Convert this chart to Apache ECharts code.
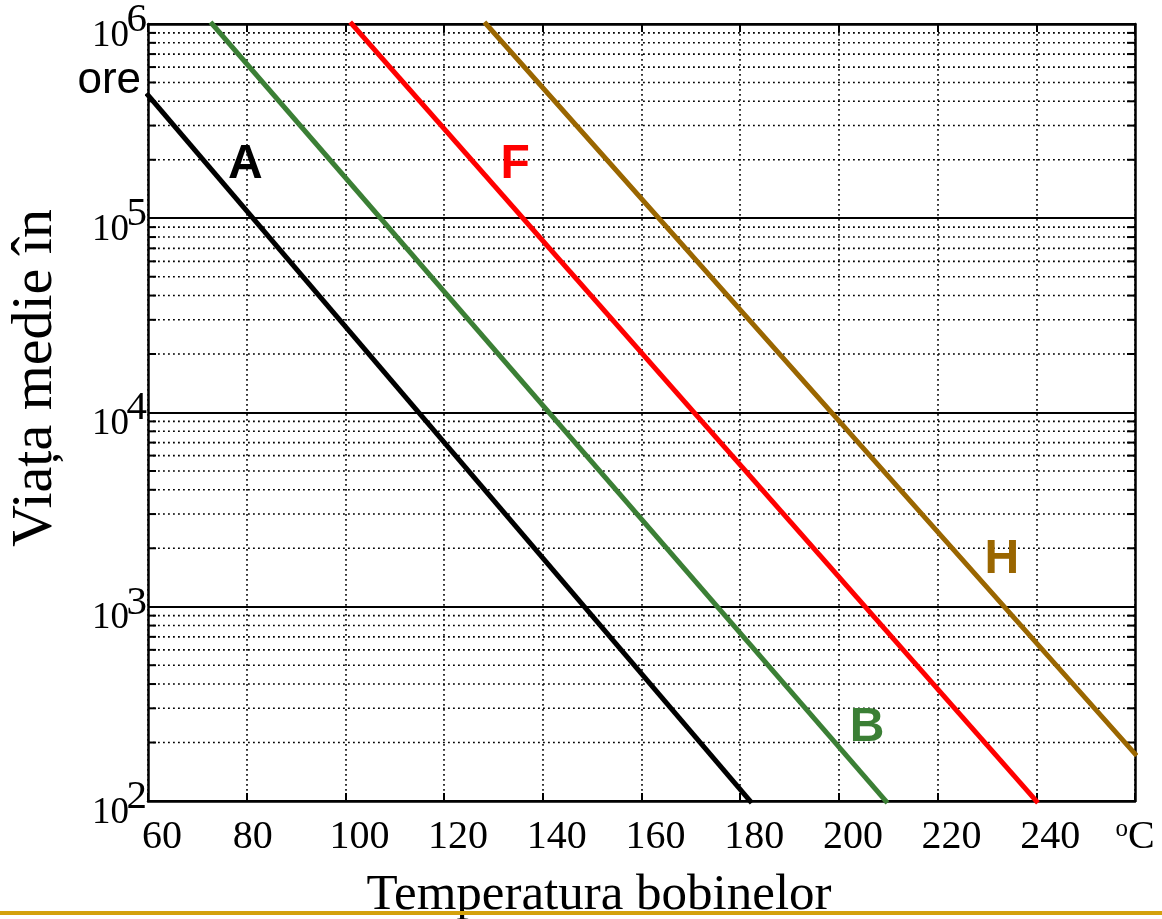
<!DOCTYPE html>
<html><head><meta charset="utf-8">
<script src="https://cdn.jsdelivr.net/npm/echarts@6/dist/echarts.min.js"></script>
<style>html,body{margin:0;padding:0;background:#fff}#c{width:1162px;height:919px}</style>
</head><body><div id="c"></div>
<script>
// ---- data ----
const xMin = 60, xMax = 260, xStep = 20;
const yMin = 100, yMax = 1000000;
const yBaseText = '10';
const xTitle = 'Temperatura bobinelor';
const yTitle = 'Viața medie în';
const yUnit = 'ore';
const xUnitSup = 'o', xUnit = 'C';

const classNames = ['A', 'B', 'F', 'H'];
const tempA = [60, 182];    const lifeA = [430000, 100];
const tempB = [73, 209.5];  const lifeB = [1000000, 100];
const tempF = [101.3, 240]; const lifeF = [1000000, 100];
const tempH = [128.5, 260]; const lifeH = [1000000, 175];

// label anchors (data coords)
const labelTemp = [79.7, 205.7, 134.4, 233.0];
const labelLife = [189000, 238, 189000, 1740];

const colors = ['#000000', '#3b7f35', '#ff0000', '#9a6600'];

// minor grid values (2..9 per decade)
const minorVals = [];
for (let d = 2; d < 6; d++) for (let m = 2; m <= 9; m++) minorVals.push(m * Math.pow(10, d));

const temps = [tempA, tempB, tempF, tempH];
const lifes = [lifeA, lifeB, lifeF, lifeH];

const serif = 'Liberation Serif, Times New Roman, serif';
const sans = 'Liberation Sans, Arial, sans-serif';

const chart = echarts.init(document.getElementById('c'), null, {renderer: 'canvas'});

const lineSeries = classNames.map((n, i) => ({
  type: 'line', name: n, z: 5, clip: false, silent: true,
  symbol: 'none', yAxisIndex: 0, xAxisIndex: 0,
  lineStyle: {color: colors[i], width: 5, cap: 'square'},
  data: temps[i].map((t, k) => [t, lifes[i][k]]),
  markPoint: {
    symbol: 'rect', symbolSize: 1, silent: true,
    itemStyle: {color: 'rgba(0,0,0,0)'},
    label: {show: true, position: 'inside', formatter: n,
      fontFamily: sans, fontWeight: 'bold', fontSize: 48, color: colors[i]},
    data: [{coord: [labelTemp[i], labelLife[i]], value: n}]
  }
}));

const minorSeries = {
  type: 'custom', z: 1, silent: true, clip: false, xAxisIndex: 0, yAxisIndex: 0,
  data: minorVals.map(v => [xMin, v]),
  encode: {x: 0, y: 1},
  renderItem: (params, api) => {
    const v = api.value(1);
    const p1 = api.coord([xMin, v]);
    const p2 = api.coord([xMax, v]);
    return {type: 'group', children: [
      {type: 'line', shape: {x1: p1[0], y1: p1[1], x2: p2[0], y2: p2[1]},
        style: {stroke: '#000', lineWidth: 1.6, lineDash: [1.8, 3.2]}},
      {type: 'line', shape: {x1: p1[0], y1: p1[1], x2: p1[0] + 8, y2: p1[1]},
        style: {stroke: '#000', lineWidth: 2}},
      {type: 'line', shape: {x1: p2[0] - 8, y1: p2[1], x2: p2[0], y2: p2[1]},
        style: {stroke: '#000', lineWidth: 2}}
    ]};
  }
};

const hiddenAxisParts = {
  axisLine: {show: false}, axisTick: {show: false}, splitLine: {show: false}, minorTick: {show: false}
};

const option = {
  animation: false,
  backgroundColor: '#fff',
  grid: {left: 148, right: 27, top: 24, bottom: 118, containLabel: false, outerBoundsMode: 'none'},
  xAxis: [{
    type: 'value', min: xMin, max: xMax, interval: xStep, position: 'bottom',
    axisLine: {show: true, onZero: false, lineStyle: {color: '#000', width: 2.5}},
    axisTick: {show: true, inside: true, length: 8, lineStyle: {color: '#000', width: 2}},
    splitLine: {show: true, lineStyle: {color: '#000', width: 1.6, type: [1.8, 3.2]}},
    axisLabel: {
      show: true, margin: 16, showMinLabel: true, showMaxLabel: true,
      formatter: v => {
        if (v === xMax) return '{o|' + xUnitSup + '}{c|' + xUnit + '}';
        if (v === 80) return '{m|' + v + '}';
        return '{n|' + v + '}';
      },
      rich: {
        n: {fontFamily: serif, fontSize: 40, lineHeight: 40, color: '#000', padding: [0, 0, 0, 28]},
        m: {fontFamily: serif, fontSize: 40, lineHeight: 40, color: '#000', padding: [0, 0, 0, 12]},
        o: {fontFamily: serif, fontSize: 25, lineHeight: 25, color: '#000', verticalAlign: 'top'},
        c: {fontFamily: serif, fontSize: 40, lineHeight: 40, color: '#000', verticalAlign: 'bottom'}
      }
    }
  }, {
    type: 'value', min: xMin, max: xMax, interval: xStep, position: 'top',
    axisLine: {show: true, onZero: false, lineStyle: {color: '#000', width: 2.5}},
    axisTick: {show: true, inside: true, length: 8, lineStyle: {color: '#000', width: 2}},
    splitLine: {show: false}, axisLabel: {show: false}
  }],
  yAxis: [{
    // main axis: base "10" of each label
    type: 'log', logBase: 10, min: yMin, max: yMax, position: 'left',
    axisLine: {show: true, onZero: false, lineStyle: {color: '#000', width: 2.5}},
    axisTick: {show: true, inside: true, length: 8, lineStyle: {color: '#000', width: 2}},
    splitLine: {show: true, lineStyle: {color: '#000', width: 2, type: 'solid'}},
    axisLabel: {
      show: true, margin: 19, showMinLabel: true, showMaxLabel: true,
      verticalAlign: 'top', lineHeight: 24,
      fontFamily: serif, fontSize: 37, color: '#000',
      formatter: () => yBaseText
    }
  }, {
    type: 'log', logBase: 10, min: yMin, max: yMax, position: 'right',
    axisLine: {show: true, onZero: false, lineStyle: {color: '#000', width: 2.5}},
    axisTick: {show: true, inside: true, length: 8, lineStyle: {color: '#000', width: 2}},
    splitLine: {show: false}, axisLabel: {show: false}
  }, Object.assign({
    // exponent of each label (superscript)
    type: 'log', logBase: 10, min: yMin, max: yMax, position: 'left',
    axisLabel: {
      show: true, margin: 1, showMinLabel: true, showMaxLabel: true,
      verticalAlign: 'bottom', lineHeight: 8,
      fontFamily: serif, fontSize: 41, color: '#000',
      formatter: v => String(Math.round(Math.log10(v)))
    }
  }, hiddenAxisParts)],
  graphic: [
    {type: 'text', x: 599, y: 896, silent: true,
      style: {text: xTitle, fontFamily: serif, fontSize: 51, fill: '#000', align: 'center', verticalAlign: 'middle'}},
    {type: 'text', x: 36, y: 378, rotation: Math.PI / 2, silent: true,
      style: {text: yTitle, fontFamily: serif, fontSize: 58, fill: '#000', align: 'center', verticalAlign: 'middle'}},
    {type: 'text', x: 141, y: 81, silent: true,
      style: {text: yUnit, fontFamily: sans, fontSize: 44, fill: '#000', align: 'right', verticalAlign: 'middle'}},
    {type: 'line', silent: true, shape: {x1: 0, y1: 913, x2: 1162, y2: 913},
      style: {stroke: '#d4a10c', lineWidth: 4}}
  ],
  series: [minorSeries].concat(lineSeries)
};
chart.setOption(option);
</script></body></html>
